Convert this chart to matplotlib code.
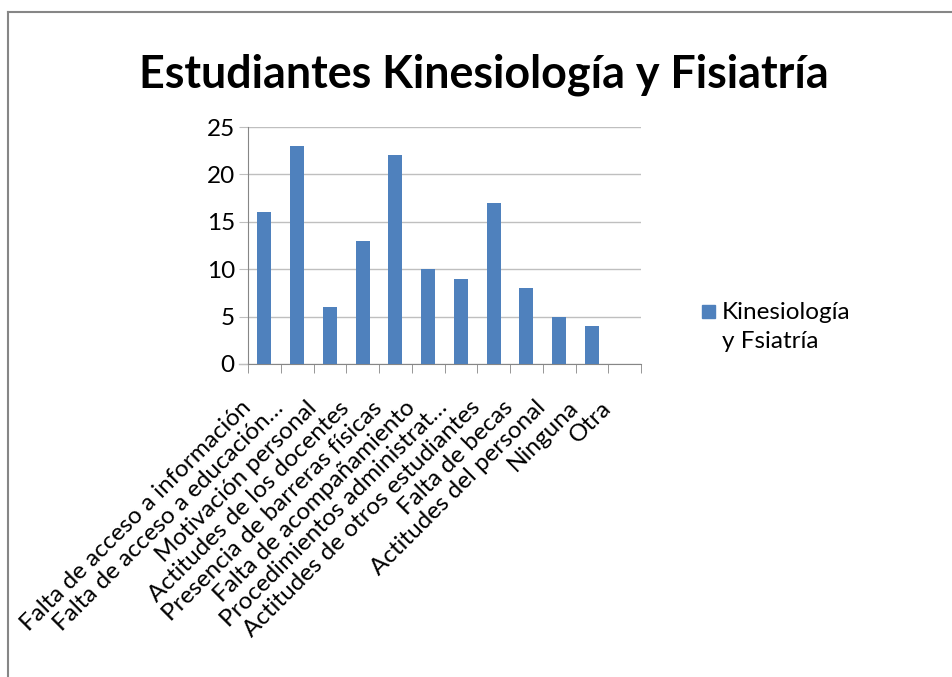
import matplotlib
matplotlib.use("Agg")
import matplotlib.pyplot as plt
import numpy as np
from matplotlib.lines import Line2D
from matplotlib.patches import Rectangle
from matplotlib.transforms import ScaledTranslation

categories = [
    "Falta de acceso a información",
    "Falta de acceso a educación…",
    "Motivación personal",
    "Actitudes de los docentes",
    "Presencia de barreras físicas",
    "Falta de acompañamiento",
    "Procedimientos administrat…",
    "Actitudes de otros estudiantes",
    "Falta de becas",
    "Actitudes del personal",
    "Ninguna",
    "Otra",
]
values = [16, 23, 6, 13, 22, 10, 9, 17, 8, 5, 4, 0]
yticks = [0, 5, 10, 15, 20, 25]
title = "Estudiantes Kinesiología y Fisiatría"
series_name = "Kinesiología\ny Fsiatría"

plt.rcParams['font.family'] = ['Lato', 'DejaVu Sans']

W, H = 952, 677
fig = plt.figure(figsize=(W / 100, H / 100), dpi=100)
fig.patch.set_facecolor("white")

# outer chart border
fig.add_artist(Line2D([8 / W, 8 / W], [0, 1 - 12 / H], color="#868686", lw=1.5, transform=fig.transFigure))
fig.add_artist(Line2D([8 / W, 1], [1 - 12 / H, 1 - 12 / H], color="#868686", lw=1.5, transform=fig.transFigure))

x0, x1, yb, yt = 248, 641, 364, 127
ax = fig.add_axes([x0 / W, 1 - yb / H, (x1 - x0) / W, (yb - yt) / H])

bar_color = "#4F81BD"
x = np.arange(len(categories))
ax.bar(x, values, width=0.43, color=bar_color, zorder=3)

ax.set_xlim(-0.5, len(categories) - 0.5)
ax.set_ylim(0, 25)
ax.set_yticks(yticks)
ax.yaxis.grid(True, color="#BFBFBF", lw=1, zorder=0)
ax.set_axisbelow(True)

for s in ["top", "right"]:
    ax.spines[s].set_visible(False)
ax.spines["left"].set_color("#868686")
ax.spines["bottom"].set_color("#868686")

fs = 17.5
ax.tick_params(axis="y", length=6.5, color="#BFBFBF", labelsize=fs, pad=3)
ax.set_xticks(x)
ax.set_xticklabels(categories, rotation=45, ha="right", va="top", rotation_mode="anchor", fontsize=fs)
ax.tick_params(axis="x", which="major", length=0, pad=0)
ax.set_xticks(np.arange(-0.5, len(categories)), minor=True)
ax.tick_params(axis="x", which="minor", length=6.5, color="#868686")
off = ScaledTranslation(-0.24, -0.33, fig.dpi_scale_trans)
for lbl in ax.get_xticklabels():
    lbl.set_transform(lbl.get_transform() + off)

# extend bottom line to tick extent
ax.plot([-0.5 - 9 / ((x1 - x0) / 12), -0.5], [0, 0], color="#BFBFBF", lw=1, clip_on=False)

fig.text(484 / W, 1 - 75 / H, title, ha="center", va="center", fontsize=32.3, fontweight="bold")

# legend
fig.add_artist(Rectangle((702 / W, 1 - 318 / H), 13 / W, 13 / H, color=bar_color, transform=fig.transFigure))
fig.text(722 / W, 1 - 302 / H, series_name, ha="left", va="top", fontsize=fs, linespacing=1.5)

fig.savefig("out.png", dpi=100)
